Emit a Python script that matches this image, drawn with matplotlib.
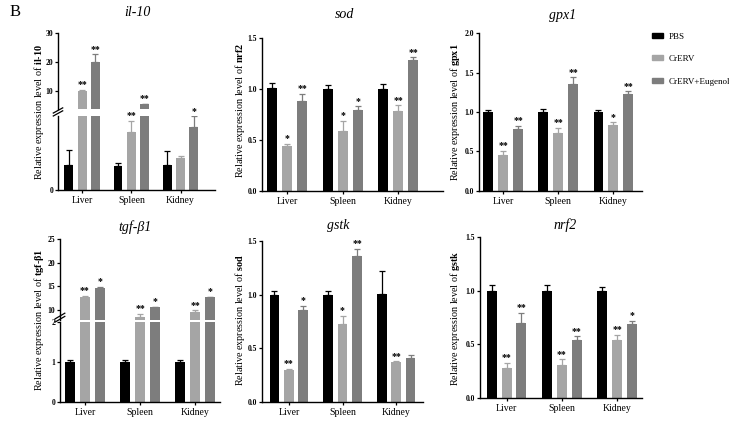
import matplotlib.pyplot as plt
import numpy as np
from matplotlib.patches import Patch

plt.rcParams['font.family'] = 'Liberation Serif'
plt.rcParams['mathtext.fontset'] = 'custom'
plt.rcParams['mathtext.rm'] = 'Liberation Serif'
plt.rcParams['mathtext.bf'] = 'Liberation Serif:bold'
plt.rcParams['mathtext.it'] = 'Liberation Serif:italic'

# data
groups = ["Liver", "Spleen", "Kidney"]
series = ["PBS", "CrERV", "CrERV+Eugenol"]
colors = ["#000000", "#a5a5a5", "#7d7d7d"]

il10_mean = [[1.0, 0.99, 1.0], [10.0, 2.34, 1.28], [20.0, 5.45, 2.55]]
il10_err = [[0.62, 0.11, 0.6], [0.5, 0.46, 0.1], [2.7, 0.25, 0.44]]
il10_star = [["", "", ""], ["**", "**", ""], ["**", "**", "*"]]

sod_mean = [[1.01, 1.0, 1.0], [0.44, 0.585, 0.785], [0.88, 0.79, 1.28]]
sod_err = [[0.05, 0.04, 0.05], [0.02, 0.1, 0.055], [0.07, 0.04, 0.03]]
sod_star = [["", "", ""], ["*", "*", "**"], ["**", "*", "**"]]

gpx1_mean = [[1.0, 1.0, 1.0], [0.455, 0.73, 0.83], [0.79, 1.35, 1.23]]
gpx1_err = [[0.03, 0.035, 0.025], [0.055, 0.065, 0.04], [0.035, 0.09, 0.03]]
gpx1_star = [["", "", ""], ["**", "**", "*"], ["**", "**", "**"]]

tgf_mean = [[1.0, 1.0, 1.0], [12.8, 8.6, 9.6], [14.6, 10.6, 12.7]]
tgf_err = [[0.05, 0.05, 0.04], [0.15, 0.55, 0.35], [0.35, 0.1, 0.1]]
tgf_star = [["", "", ""], ["**", "**", "**"], ["*", "*", "*"]]

gstk_mean = [[1.0, 1.0, 1.01], [0.3, 0.73, 0.37], [0.86, 1.36, 0.41]]
gstk_err = [[0.03, 0.03, 0.21], [0.006, 0.075, 0.01], [0.035, 0.07, 0.025]]
gstk_star = [["", "", ""], ["**", "*", "**"], ["*", "**", ""]]

nrf2_mean = [[1.0, 1.0, 1.0], [0.28, 0.31, 0.545], [0.7, 0.54, 0.69]]
nrf2_err = [[0.05, 0.05, 0.035], [0.05, 0.05, 0.045], [0.09, 0.035, 0.03]]
nrf2_star = [["", "", ""], ["**", "**", "**"], ["**", "**", "*"]]

W, H = 729, 422
fig = plt.figure(figsize=(W / 100, H / 100), dpi=100)


def make_ax(x0, x1, y0, y1):
    # pixel box -> figure fraction
    return fig.add_axes([x0 / W, 1 - y1 / H, (x1 - x0) / W, (y1 - y0) / H])


def style(ax, xlim, ylim, yticks, fmt="%.1f", xaxis=True):
    ax.set_xlim(*xlim)
    ax.set_ylim(*ylim)
    ax.set_yticks(yticks)
    ax.set_yticklabels([fmt % t for t in yticks], fontsize=5.5, fontweight="bold")
    for s in ["top", "right"]:
        ax.spines[s].set_visible(False)
    for s in ["left", "bottom"]:
        ax.spines[s].set_linewidth(1.0)
    ax.tick_params(axis="y", length=2.5, width=0.9, pad=1)
    if xaxis:
        ax.set_xticks(range(3))
        ax.set_xticklabels(groups, fontsize=7)
        ax.tick_params(axis="x", length=2.5, width=0.9, pad=1.5)
    else:
        ax.spines["bottom"].set_visible(False)
        ax.set_xticks([])


def draw(ax, means, errs, stars):
    ylo, yhi = ax.get_ylim()
    for i in range(3):
        x = np.arange(3) + (i - 1) * 0.27
        m = np.array(means[i])
        e = np.array(errs[i])
        ax.bar(x, m, width=0.18, color=colors[i])
        ax.errorbar(x, m, yerr=[np.zeros(3), e], fmt="none", ecolor=colors[i],
                    elinewidth=0.9, capsize=2, capthick=0.9)
        for xi, top, s in zip(x, m + e, stars[i]):
            if s and ylo <= top <= yhi:
                ax.annotate(s, (xi, top), xytext=(0, 0.5), textcoords="offset points",
                            ha="center", va="bottom", fontsize=7, fontweight="bold")


def brk(ax):
    # "//" break mark on the left spine, just above the lower segment
    for dy in (0.0, 0.04):
        ax.plot([-0.03, 0.03], [1.0 + dy, 1.07 + dy], color="k", lw=0.9,
                transform=ax.transAxes, clip_on=False)


def ylab(x, y, gene):
    fig.text(x / W, 1 - y / H, "Relative expression level of " + gene,
             rotation=90, ha="center", va="center", fontsize=7.3)


def title(x, y, s):
    fig.text(x / W, 1 - y / H, s, ha="center", va="center", fontsize=10, style="italic")


# il-10 (broken axis)
ax1u = make_ax(58, 215, 33, 108.6)
style(ax1u, (-0.49, 2.7), (4, 30), [10, 20, 30], fmt="%d", xaxis=False)
draw(ax1u, il10_mean, il10_err, il10_star)
ax1l = make_ax(58, 215, 116, 190)
style(ax1l, (-0.49, 2.7), (0, 3), [0], fmt="%d")
draw(ax1l, il10_mean, il10_err, il10_star)
brk(ax1l)
ylab(39, 112, r"$\mathbf{il}$-$\mathbf{10}$")
title(137, 13, "il-10")

# sod
ax2 = make_ax(262, 443, 38, 191)
style(ax2, (-0.45, 2.8), (0, 1.5), [0, 0.5, 1.0, 1.5])
draw(ax2, sod_mean, sod_err, sod_star)
ylab(240, 110, r"$\mathbf{nrf2}$")
title(345, 15, "sod")

# gpx1
ax3 = make_ax(479, 642, 33, 191)
style(ax3, (-0.44, 2.52), (0, 2.0), [0, 0.5, 1.0, 1.5, 2.0])
draw(ax3, gpx1_mean, gpx1_err, gpx1_star)
ylab(455, 112, r"$\mathbf{gpx1}$")
title(563, 15, "gpx1")

# tgf-b1 (broken axis)
ax4u = make_ax(60, 220, 239, 319.5)
style(ax4u, (-0.45, 2.45), (8, 25), [10, 15, 20, 25], fmt="%d", xaxis=False)
draw(ax4u, tgf_mean, tgf_err, tgf_star)
ax4l = make_ax(60, 220, 322, 402)
style(ax4l, (-0.45, 2.45), (0, 2), [0, 1, 2], fmt="%d")
draw(ax4l, tgf_mean, tgf_err, tgf_star)
brk(ax4l)
ylab(39, 320, r"$\mathbf{tgf}$-$\mathbf{\beta1}$")
title(135, 227, "tgf-β1")

# gstk
ax5 = make_ax(262, 423, 241, 402)
style(ax5, (-0.5, 2.5), (0, 1.5), [0, 0.5, 1.0, 1.5])
draw(ax5, gstk_mean, gstk_err, gstk_star)
ylab(240, 320, r"$\mathbf{sod}$")
title(338, 225, "gstk")

# nrf2
ax6 = make_ax(480, 642, 237, 398)
style(ax6, (-0.48, 2.45), (0, 1.5), [0, 0.5, 1.0, 1.5])
draw(ax6, nrf2_mean, nrf2_err, nrf2_star)
ylab(455, 318, r"$\mathbf{gstk}$")
title(565, 225, "nrf2")

fig.text(10 / W, 1 - 12 / H, "B", fontsize=12, va="center", ha="left")

handles = [Patch(color=c) for c in colors]
fig.legend(handles, series, loc="upper left", bbox_to_anchor=(648 / W, 1 - 29 / H),
           frameon=False, fontsize=6.5, handlelength=1.3, handleheight=0.45,
           labelspacing=1.6, handletextpad=0.6, borderaxespad=0)

fig.savefig("out.png", dpi=100)
